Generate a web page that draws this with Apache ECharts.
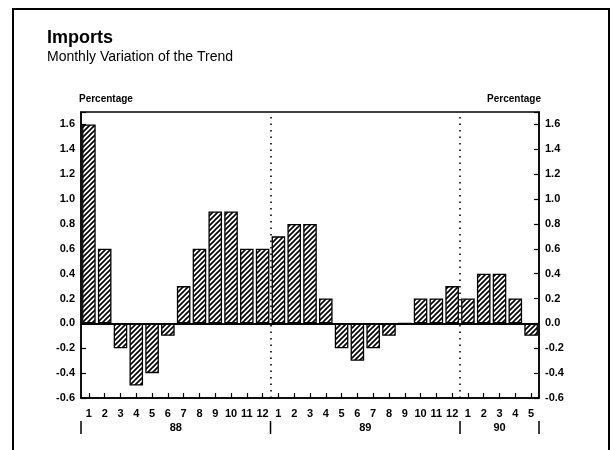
<!DOCTYPE html>
<html>
<head>
<meta charset="utf-8">
<script src="https://cdn.jsdelivr.net/npm/echarts@6/dist/echarts.min.js"></script>
<style>
  html, body { margin: 0; padding: 0; background: #fff; }
  #chart { width: 615px; height: 450px; }
</style>
</head>
<body>
<div id="chart"></div>
<script>
// months per year
const years = ["88", "89", "90"];
const monthsPerYear = [12, 12, 5];
const values88 = [1.6, 0.6, -0.2, -0.5, -0.4, -0.1, 0.3, 0.6, 0.9, 0.9, 0.6, 0.6];
const values89 = [0.7, 0.8, 0.8, 0.2, -0.2, -0.3, -0.2, -0.1, 0, 0.2, 0.2, 0.3];
const values90 = [0.2, 0.4, 0.4, 0.2, -0.1];
const yTicks = [-0.6, -0.4, -0.2, 0, 0.2, 0.4, 0.6, 0.8, 1.0, 1.2, 1.4, 1.6];

const values = [...values88, ...values89, ...values90];
const categories = [];
const monthLabels = [];
years.forEach((y, i) => {
  for (let m = 1; m <= monthsPerYear[i]; m++) {
    categories.push(y + "-" + m);
    monthLabels.push(String(m));
  }
});
const total = categories.length;

// year boundaries and centres, in month units
const bounds = [0];
monthsPerYear.forEach((n) => bounds.push(bounds[bounds.length - 1] + n));
const centres = years.map((y, i) => (bounds[i] + bounds[i + 1]) / 2);

// hatch fill
function hatch() {
  const c = document.createElement("canvas");
  const s = 5;
  c.width = s;
  c.height = s;
  const ctx = c.getContext("2d");
  ctx.fillStyle = "#fff";
  ctx.fillRect(0, 0, s, s);
  ctx.strokeStyle = "#000";
  ctx.lineWidth = 1.6;
  ctx.beginPath();
  ctx.moveTo(-1, s + 1);
  ctx.lineTo(s + 1, -1);
  ctx.moveTo(-1, 1);
  ctx.lineTo(1, -1);
  ctx.moveTo(s - 1, s + 1);
  ctx.lineTo(s + 1, s - 1);
  ctx.stroke();
  return c;
}

const font = "Liberation Sans";
const yMin = -0.6;
const yMax = 1.7;

function yLabel(v) {
  const r = Math.round(v * 10) / 10;
  if (!yTicks.some((t) => Math.abs(t - r) < 1e-6)) return "";
  return r.toFixed(1);
}

const yAxisBase = {
  type: "value",
  min: yMin,
  max: yMax,
  interval: 0.2,
  axisLine: { show: true, lineStyle: { color: "#000", width: 1.5 } },
  axisTick: { show: true, inside: true, length: 5, lineStyle: { color: "#000", width: 1.2 } },
  splitLine: { show: false },
  axisLabel: {
    color: "#000",
    fontFamily: font,
    fontWeight: "bold",
    fontSize: 11,
    margin: 6,
    formatter: yLabel,
  },
  nameLocation: "end",
  nameGap: 8,
};

const chart = echarts.init(document.getElementById("chart"));

const option = {
  animation: false,
  title: {
    text: "Imports",
    subtext: "Monthly Variation of the Trend",
    left: 42,
    top: 24,
    itemGap: 3,
    textStyle: { fontFamily: font, fontWeight: "bold", fontSize: 18, color: "#000" },
    subtextStyle: { fontFamily: font, fontSize: 14, color: "#000" },
  },
  grid: {
    left: 81,
    right: 76,
    top: 112,
    bottom: 52,
    show: true,
    borderColor: "#000",
    borderWidth: 1.5,
    backgroundColor: "transparent",
  },
  xAxis: [
    {
      type: "category",
      data: categories,
      boundaryGap: true,
      axisLine: { show: true, onZero: false, lineStyle: { color: "#000", width: 1.5 } },
      axisTick: { show: true, inside: true, alignWithLabel: true, length: 5, lineStyle: { color: "#000", width: 1.2 } },
      axisLabel: {
        interval: 0,
        color: "#000",
        fontFamily: font,
        fontWeight: "bold",
        fontSize: 11,
        margin: 10,
        formatter: (v, i) => monthLabels[i],
      },
    },
    {
      type: "value",
      min: 0,
      max: total,
      interval: 0.5,
      position: "bottom",
      offset: 15,
      axisLine: { show: false },
      axisTick: { show: false },
      splitLine: { show: false },
      axisLabel: {
        color: "#000",
        fontFamily: font,
        fontWeight: "bold",
        fontSize: 11,
        margin: 9,
        showMinLabel: false,
        showMaxLabel: false,
        formatter: (v) => {
          const i = centres.findIndex((c) => Math.abs(c - v) < 1e-6);
          return i >= 0 ? years[i] : "";
        },
      },
    },
  ],
  yAxis: [
    Object.assign({}, yAxisBase, {
      position: "left",
      name: "Percentage",
      nameTextStyle: { color: "#000", fontFamily: font, fontWeight: "bold", fontSize: 10, align: "left", padding: [0, 0, 0, -2] },
    }),
    Object.assign({}, yAxisBase, {
      position: "right",
      name: "Percentage",
      nameTextStyle: { color: "#000", fontFamily: font, fontWeight: "bold", fontSize: 10, align: "right", padding: [0, -2, 0, 0] },
    }),
  ],
  series: [
    {
      type: "bar",
      xAxisIndex: 0,
      yAxisIndex: 0,
      z: 3,
      data: values,
      barCategoryGap: "14%",
      itemStyle: {
        color: { image: hatch(), repeat: "repeat" },
        borderColor: "#000",
        borderWidth: 1.3,
      },
      markLine: {
        silent: true,
        symbol: "none",
        label: { show: false },
        lineStyle: { color: "#000", type: "solid", width: 1.8 },
        data: [{ yAxis: 0 }],
      },
    },
    {
      type: "line",
      xAxisIndex: 1,
      yAxisIndex: 0,
      z: 1,
      data: [],
      markLine: {
        silent: true,
        symbol: "none",
        z: 1,
        label: { show: false },
        lineStyle: { color: "#000", type: [1.5, 5], width: 1.6 },
        data: bounds.slice(1, -1).map((b) => ({ xAxis: b })),
      },
    },
  ],
};

chart.setOption(option);

// year separators below the axis, placed with the value axis scale
const seps = bounds.map((b) => {
  const x = chart.convertToPixel({ xAxisIndex: 1 }, b);
  return {
    type: "line",
    shape: { x1: x, y1: 421, x2: x, y2: 434 },
    style: { stroke: "#000", lineWidth: 1.5 },
  };
});

chart.setOption({
  graphic: [
    {
      type: "rect",
      shape: { x: 13, y: 9, width: 596, height: 460 },
      style: { fill: "none", stroke: "#000", lineWidth: 2 },
      silent: true,
    },
    ...seps,
  ],
});
</script>
</body>
</html>
